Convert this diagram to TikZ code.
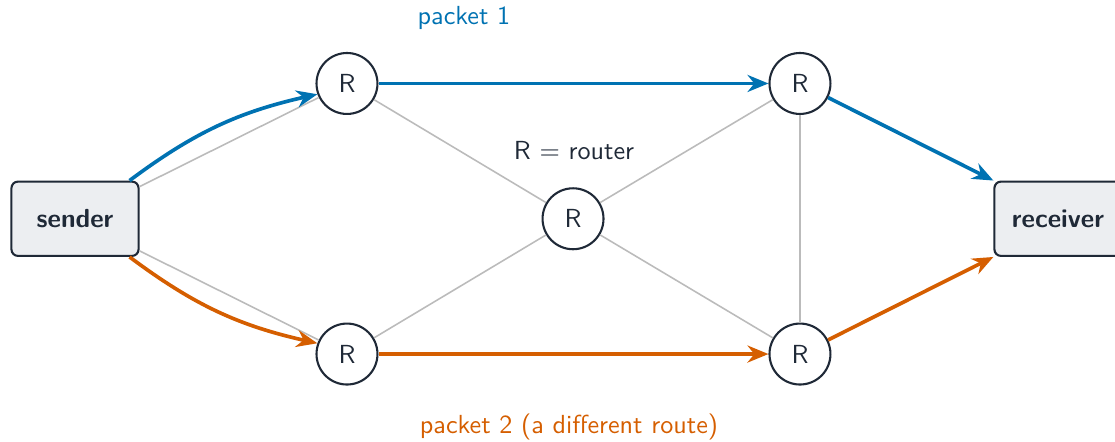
\documentclass[tikz,border=0pt]{standalone}
\usepackage{tikz}
\usetikzlibrary{arrows.meta,calc}

\definecolor{pktblue}{HTML}{0072B2}
\definecolor{pktorange}{HTML}{D55E00}
\definecolor{ink}{HTML}{1F2937}
\definecolor{boxfill}{HTML}{ECEEF1}
\definecolor{linkgray}{HTML}{BBBBBB}

\begin{document}
\begin{tikzpicture}[font=\sffamily, text=ink,
    router/.style={circle, draw=ink, line width=0.8pt, fill=white, minimum size=0.82cm, inner sep=0pt},
    host/.style={draw=ink, line width=0.8pt, fill=boxfill, rounded corners=2.5pt, minimum width=1.71cm, minimum height=1.0cm, font=\sffamily\bfseries},
    link/.style={draw=linkgray, line width=0.6pt},
    route/.style={line width=1.4pt, -{Stealth[length=8pt,width=6.5pt]}}]
    \useasboundingbox (0,0) rectangle (15,5.933);

    % End hosts
    \node[host] (sender) at (1.009,2.99) {sender};
    \node[host] (receiver) at (14.233,2.99) {receiver};

    % Routers
    \node[router] (rtl) at (4.668,4.81) {R};
    \node[router] (rtr) at (10.762,4.81) {R};
    \node[router] (rmid) at (7.709,2.99) {R};
    \node[router] (rbl) at (4.668,1.17) {R};
    \node[router] (rbr) at (10.762,1.17) {R};

    % Links
    \draw[link] (sender) -- (rtl);
    \draw[link] (sender) -- (rbl);
    \draw[link] (rtl) -- (rmid);
    \draw[link] (rbl) -- (rmid);
    \draw[link] (rmid) -- (rtr);
    \draw[link] (rmid) -- (rbr);
    \draw[link] (rtr) -- (rbr);

    % Packet 1
    \draw[route, pktblue] (sender.35) to[bend left=12] (rtl.200);
    \draw[route, pktblue] (rtl) -- (rtr);
    \draw[route, pktblue] (rtr) -- (receiver.north west);

    % Packet 2
    \draw[route, pktorange] (sender.-35) to[bend right=12] (rbl.160);
    \draw[route, pktorange] (rbl) -- (rbr);
    \draw[route, pktorange] (rbr) -- (receiver.south west);

    % Labels
    \node[text=pktblue] (lbl1) at (6.242,5.691) {packet 1};
    \node (legend) at (7.722,3.901) {R $=$ router};
    \node[text=pktorange] (lbl2) at (7.655,0.188) {packet 2 (a different route)};
\end{tikzpicture}
\end{document}
